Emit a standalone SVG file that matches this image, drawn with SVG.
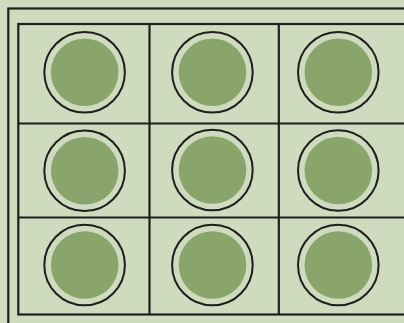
<svg xmlns="http://www.w3.org/2000/svg" width="404" height="323" viewBox="0 0 404 323">
<style>
.ln{fill:none;stroke:#1e1e1e;stroke-width:2.2}
.ring{fill:#cfdbbe;stroke:#1e1e1e;stroke-width:2}
.dot{fill:#8aa56b}
</style>
<rect x="0" y="0" width="404" height="323" fill="#cfdbbe"/>
<g id="frame">
<rect class="ln" x="8.3" y="8.5" width="420" height="340"/>
<rect class="ln" x="18.3" y="24" width="400" height="290.5"/>
</g>
<g id="connectors">
<line class="ln" x1="149.5" y1="24" x2="149.5" y2="314.5"/>
<line class="ln" x1="278.8" y1="24" x2="278.8" y2="314.5"/>
<line class="ln" x1="18.3" y1="123.5" x2="410" y2="123.5"/>
<line class="ln" x1="18.3" y1="217.5" x2="410" y2="217.5"/>
</g>
<g id="n11"><circle class="ring" cx="84.6" cy="72.3" r="40.3"/><circle class="dot" cx="84.7" cy="72.3" r="33.8"/></g>
<g id="n12"><circle class="ring" cx="212.4" cy="72.3" r="40.3"/><circle class="dot" cx="212.5" cy="72.3" r="33.8"/></g>
<g id="n13"><circle class="ring" cx="338.3" cy="72.3" r="40.3"/><circle class="dot" cx="338.3" cy="72.3" r="33.8"/></g>
<g id="n21"><circle class="ring" cx="84.6" cy="170.8" r="40.3"/><circle class="dot" cx="84.7" cy="170.8" r="33.8"/></g>
<g id="n22"><circle class="ring" cx="212.4" cy="170" r="40.3"/><circle class="dot" cx="212.5" cy="170" r="33.8"/></g>
<g id="n23"><circle class="ring" cx="338.3" cy="170.5" r="40.3"/><circle class="dot" cx="338.3" cy="170.5" r="33.8"/></g>
<g id="n31"><circle class="ring" cx="84.6" cy="265" r="40.3"/><circle class="dot" cx="84.7" cy="265" r="33.8"/></g>
<g id="n32"><circle class="ring" cx="212.4" cy="265" r="40.3"/><circle class="dot" cx="212.5" cy="265" r="33.8"/></g>
<g id="n33"><circle class="ring" cx="338.3" cy="265" r="40.3"/><circle class="dot" cx="338.3" cy="265" r="33.8"/></g>
</svg>
